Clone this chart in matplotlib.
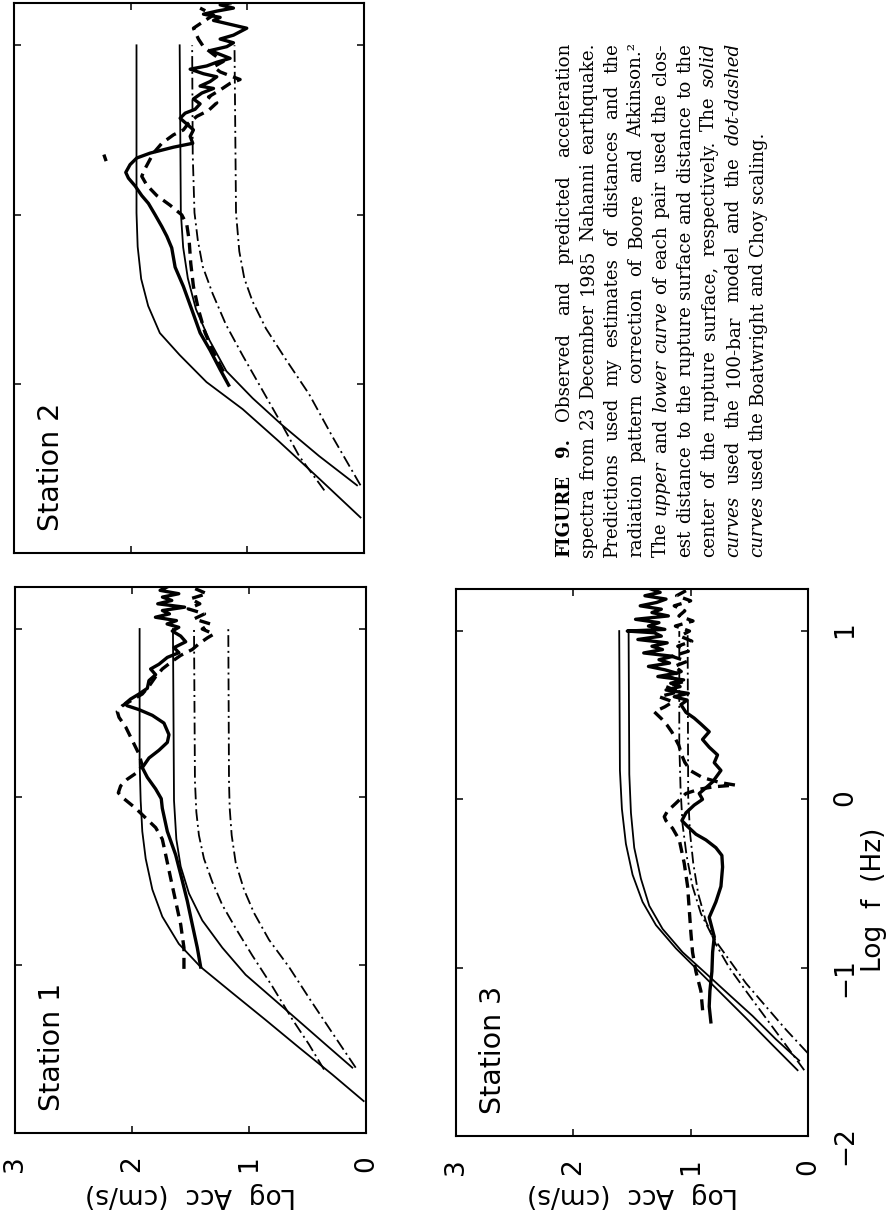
import matplotlib
matplotlib.use("Agg")
import matplotlib.pyplot as plt

W, H = 892, 1214

# tick values / labels
acc_ticks = [3, 2, 1, 0]
acc_tick_labels = ["3", "2", "1", "0"]
f_ticks = [-2, -1, 0, 1]
f_tick_labels = ["\u22122", "\u22121", "0", "1"]

# ---------------- Station 1 ----------------
s1_sol_hi_f = [-1.81, -1.652, -1.491, -1.327, -1.166, -1.012, -0.874, -0.712, -0.551, -0.367, -0.205, -0.021, 0.209, 1.0]
s1_sol_hi_acc = [0.02, 0.288, 0.573, 0.858, 1.143, 1.413, 1.60, 1.741, 1.826, 1.883, 1.912, 1.926, 1.935, 1.935]
s1_sol_lo_f = [-1.611, -1.473, -1.334, -1.196, -1.058, -0.897, -0.735, -0.574, -0.413, -0.251, -0.021, 1.0]
s1_sol_lo_acc = [0.117, 0.345, 0.573, 0.801, 1.029, 1.228, 1.399, 1.513, 1.584, 1.621, 1.641, 1.65]
s1_dd_hi_f = [-1.622, -1.473, -1.323, -1.127, -0.943, -0.781, -0.643, -0.505, -0.367, -0.228, -0.09, 0.094, 1.0]
s1_dd_hi_acc = [0.359, 0.487, 0.63, 0.801, 0.972, 1.114, 1.228, 1.314, 1.385, 1.428, 1.45, 1.462, 1.47]
s1_dd_lo_f = [-1.611, -1.404, -1.196, -1.012, -0.85, -0.689, -0.551, -0.39, -0.228, -0.067, 0.094, 1.0]
s1_dd_lo_acc = [0.088, 0.288, 0.487, 0.658, 0.829, 0.958, 1.043, 1.114, 1.148, 1.165, 1.171, 1.177]
s1_obs_f = [-1.012, -0.897, -0.758, -0.62, -0.482, -0.344, -0.205, -0.067, -0.01, 0.048, 0.117, 0.175,
            0.232, 0.278, 0.325, 0.371, 0.44, 0.486, 0.52, 0.543, 0.555, 0.583, 0.613, 0.647, 0.693,
            0.728, 0.762, 0.79, 0.831, 0.859, 0.889, 0.924, 0.958, 0.988, 1.01, 1.03, 1.05, 1.07, 1.09,
            1.11, 1.13, 1.15, 1.17, 1.19, 1.21, 1.23, 1.25]
s1_obs_acc = [1.413, 1.442, 1.485, 1.527, 1.576, 1.627, 1.698, 1.741, 1.75, 1.798, 1.869, 1.912,
              1.855, 1.77, 1.698, 1.684, 1.727, 1.826, 1.94, 2.04, 2.06, 2.012, 1.94, 1.869, 1.855,
              1.798, 1.841, 1.77, 1.698, 1.599, 1.641, 1.541, 1.584, 1.656, 1.60, 1.70, 1.62, 1.80, 1.68,
              1.74, 1.55, 1.78, 1.66, 1.74, 1.60, 1.76, 1.70]
s1_obsd_f = [-1.023, -0.897, -0.758, -0.62, -0.482, -0.344, -0.251, -0.182, -0.125, -0.067, -0.01, 0.025,
             0.066, 0.106, 0.14, 0.186, 0.255, 0.336, 0.417, 0.474, 0.509, 0.543, 0.578, 0.613, 0.659,
             0.716, 0.762, 0.808, 0.843, 0.878, 0.912, 0.947, 0.97, 1.0, 1.03, 1.06, 1.09, 1.12, 1.15,
             1.18, 1.21, 1.24]
s1_obsd_acc = [1.556, 1.556, 1.584, 1.627, 1.67, 1.712, 1.741, 1.798, 1.883, 1.969, 2.069, 2.117,
               2.097, 2.04, 1.969, 1.912, 1.94, 1.997, 2.054, 2.111, 2.126, 2.083, 1.997, 1.912, 1.855,
               1.798, 1.741, 1.656, 1.584, 1.485, 1.428, 1.356, 1.30, 1.40, 1.33, 1.47, 1.38, 1.52, 1.42,
               1.50, 1.36, 1.46]

# ---------------- Station 2 ----------------
s2_sol_hi_f = [-1.79, -1.56, -1.34, -1.15, -0.99, -0.83, -0.70, -0.54, -0.38, -0.19, 0.01, 1.0]
s2_sol_hi_acc = [0.03, 0.385, 0.73, 1.04, 1.35, 1.58, 1.75, 1.85, 1.91, 1.94, 1.95, 1.95]
s2_sol_lo_f = [-1.60, -1.427, -1.245, -1.085, -0.925, -0.742, -0.56, -0.377, -0.194, 0.011, 1.0]
s2_sol_lo_acc = [0.06, 0.385, 0.70, 0.955, 1.18, 1.325, 1.44, 1.51, 1.55, 1.57, 1.58]
s2_dd_hi_f = [-1.63, -1.427, -1.245, -1.039, -0.833, -0.651, -0.468, -0.308, -0.149, 0.011, 0.354, 1.0]
s2_dd_hi_acc = [0.34, 0.556, 0.70, 0.87, 1.04, 1.183, 1.297, 1.382, 1.425, 1.453, 1.468, 1.473]
s2_dd_lo_f = [-1.60, -1.313, -1.062, -0.856, -0.674, -0.514, -0.377, -0.217, 0.011, 1.0]
s2_dd_lo_acc = [0.03, 0.27, 0.47, 0.67, 0.84, 0.955, 1.026, 1.069, 1.097, 1.11]
s2_obs_f = [-1.008, -0.916, -0.802, -0.699, -0.562, -0.425, -0.311, -0.197, -0.128, -0.071, -0.002,
            0.066, 0.112, 0.169, 0.215, 0.249, 0.295, 0.334, 0.363, 0.398, 0.421, 0.462, 0.5, 0.535,
            0.569, 0.599, 0.622, 0.654, 0.683, 0.718, 0.745, 0.759, 0.786, 0.814, 0.832, 0.859, 0.878,
            0.9, 0.923, 0.946, 0.969, 0.992, 1.015, 1.037, 1.06, 1.101, 1.124, 1.147, 1.165, 1.184,
            1.202, 1.22, 1.239, 1.25]
s2_obs_acc = [1.16, 1.233, 1.319, 1.405, 1.476, 1.548, 1.619, 1.648, 1.69, 1.733, 1.79,
              1.848, 1.905, 1.962, 2.019, 2.042, 2.005, 1.948, 1.833, 1.633, 1.468, 1.49, 1.462, 1.519,
              1.576, 1.533, 1.448, 1.405, 1.462, 1.39, 1.29, 1.405, 1.319, 1.262, 1.376, 1.49, 1.348,
              1.262, 1.148, 1.233, 1.319, 1.176, 1.119, 1.233, 1.119, 1.005, 1.148, 1.29, 1.233, 1.376,
              1.262, 1.119, 1.233, 1.148]
s2_obsd_f = [-0.928, -0.814, -0.699, -0.562, -0.425, -0.288, -0.151, -0.059, -0.002, 0.055, 0.112,
             0.174, 0.226, 0.272, 0.363, 0.421, 0.471, 0.5, 0.539, 0.58, 0.615, 0.66, 0.695, 0.736,
             0.775, 0.798, 0.82, 0.843, 0.873, 0.905, 0.946, 0.992, 1.037, 1.101, 1.147, 1.179, 1.22]
s2_obsd_acc = [1.205, 1.29, 1.362, 1.419, 1.462, 1.485, 1.499, 1.519, 1.562, 1.662, 1.776,
               1.862, 1.905, 1.876, 1.805, 1.733, 1.633, 1.548, 1.505, 1.433, 1.333, 1.262, 1.333, 1.233,
               1.148, 1.062, 1.148, 1.233, 1.29, 1.205, 1.29, 1.376, 1.419, 1.462, 1.362, 1.29, 1.405]
s2_speck_f = [0.345, 0.325]
s2_speck_acc = [2.225, 2.215]

# ---------------- Station 3 ----------------
s3_sol_hi_f = [-1.609, -1.46, -1.299, -1.161, -1.023, -0.885, -0.747, -0.609, -0.448, -0.264, -0.057, 0.172, 1.0]
s3_sol_hi_acc = [0.089, 0.302, 0.529, 0.728, 0.927, 1.126, 1.296, 1.41, 1.495, 1.552, 1.586, 1.603, 1.609]
s3_sol_lo_f = [-1.552, -1.425, -1.287, -1.161, -1.034, -0.908, -0.77, -0.632, -0.471, -0.287, -0.08, 0.149, 1.0]
s3_sol_lo_acc = [0.075, 0.274, 0.472, 0.671, 0.87, 1.069, 1.239, 1.353, 1.424, 1.481, 1.509, 1.523, 1.529]
s3_dd_hi_f = [-1.506, -1.368, -1.23, -1.092, -0.954, -0.816, -0.678, -0.517, -0.333, -0.149, 0.058, 0.333, 1.0]
s3_dd_hi_acc = [0.004, 0.188, 0.359, 0.529, 0.671, 0.813, 0.913, 0.984, 1.035, 1.069, 1.086, 1.097, 1.097]
s3_dd_lo_f = [-1.609, -1.46, -1.299, -1.138, -1.0, -0.862, -0.724, -0.563, -0.379, -0.195, 0.012, 1.0]
s3_dd_lo_acc = [0.032, 0.188, 0.359, 0.529, 0.671, 0.785, 0.87, 0.935, 0.978, 1.006, 1.021, 1.026]
s3_obs_f = [-1.322, -1.23, -1.138, -1.023, -0.908, -0.816, -0.701, -0.609, -0.517, -0.402, -0.333,
            -0.287, -0.241, -0.207, -0.161, -0.126, -0.08, -0.034, 0.0, 0.035, 0.069, 0.104, 0.172,
            0.218, 0.264, 0.31, 0.356, 0.402, 0.448, 0.483, 0.517, 0.563,
            0.59, 0.61, 0.63, 0.65, 0.67, 0.69, 0.71, 0.73, 0.75, 0.77, 0.79, 0.81, 0.83, 0.85, 0.87,
            0.89, 0.91, 0.93, 0.95, 0.97, 0.99, 1.00, 1.01, 1.03, 1.05, 1.07, 1.09, 1.11, 1.13, 1.15,
            1.17, 1.19, 1.21, 1.23, 1.25]
s3_obs_acc = [0.828, 0.842, 0.836, 0.819, 0.813, 0.799, 0.842, 0.785, 0.742, 0.728, 0.734,
              0.785, 0.87, 0.955, 1.026, 1.075, 1.04, 0.97, 0.899, 0.927, 0.87, 0.813, 0.742,
              0.799, 0.771, 0.842, 0.899, 0.842, 0.913, 0.97, 1.04, 1.083,
              1.03, 1.14, 1.02, 1.21, 1.09, 1.17, 1.06, 1.28, 1.12, 1.22, 1.36, 1.18, 1.27, 1.15, 1.40,
              1.24, 1.33, 1.20, 1.45, 1.25, 1.31, 1.54, 1.22, 1.36, 1.27, 1.47, 1.19, 1.33, 1.25, 1.43,
              1.29, 1.21, 1.39, 1.26, 1.34]
s3_obsd_f = [-1.253, -1.138, -1.023, -0.908, -0.793, -0.655, -0.517, -0.379, -0.241, -0.172, -0.126,
             -0.103, -0.069, -0.023, 0.035, 0.06, 0.075, 0.085, 0.10, 0.13, 0.17, 0.22, 0.27, 0.32,
             0.36, 0.40, 0.44, 0.48, 0.52, 0.55, 0.58, 0.61, 0.64, 0.67, 0.70, 0.73, 0.76, 0.79, 0.82,
             0.85, 0.88, 0.91, 0.94, 0.97, 1.00, 1.03, 1.06, 1.09, 1.12, 1.15, 1.18, 1.21, 1.24]
s3_obsd_acc = [0.898, 0.913, 0.955, 0.984, 0.998, 1.012, 1.026, 1.055, 1.097, 1.154, 1.211,
               1.225, 1.197, 1.126, 1.04, 0.93, 0.80, 0.62, 0.75, 0.90, 1.00, 1.05, 1.08, 1.10,
               1.13, 1.16, 1.20, 1.25, 1.31, 1.22, 1.15, 1.27, 1.10, 1.21, 1.06, 1.19, 1.08, 1.14, 1.03,
               1.16, 1.02, 1.11, 0.99, 1.09, 1.01, 1.13, 0.98, 1.10, 1.05, 1.14, 1.00, 1.12, 1.04]

caption_lines = [
    "^FIGURE ^9. Observed and predicted acceleration",
    "spectra from 23 December 1985 Nahanni earthquake.",
    "Predictions used my estimates of distances and the",
    "radiation pattern correction of Boore and Atkinson.\u00b2",
    "The _upper and _lower _curve of each pair used the clos-",
    "est distance to the rupture surface and distance to the",
    "center of the rupture surface, respectively. The _solid",
    "_curves used the 100-bar model and the _dot-dashed",
    "_curves used the Boatwright and Choy scaling.",
]

FS = 19
model_kw = dict(color="black", lw=1.3)
dd_kw = dict(color="black", lw=1.3, linestyle=(0, (6.5, 2.2, 1.1, 2.2)))
obs_kw = dict(color="black", lw=2.4)
obsd_kw = dict(color="black", lw=2.4, linestyle=(0, (3.3, 2.0)))

fig = plt.figure(figsize=(W / 100, H / 100), dpi=100)


def box(x0, y0, x1, y1):
    # pixel box of the page -> figure fraction
    return [x0 / W, 1 - y1 / H, (x1 - x0) / W, (y1 - y0) / H]


def panel(rect, name, lines, acc_lab=False, f_lab=False):
    ax = fig.add_axes(rect)
    for f, a, kw in lines:
        ax.plot(a, f, **kw)
    ax.set_xlim(3, 0)
    ax.set_ylim(-2, 1.25)
    ax.set_xticks(acc_ticks)
    ax.set_xticklabels(acc_tick_labels)
    ax.set_yticks(f_ticks)
    ax.set_yticklabels(f_tick_labels)
    ax.tick_params(direction="in", length=5, width=1.1, top=True, right=True,
                   labelsize=FS, labelbottom=acc_lab, labelleft=False, labelright=f_lab)
    ax.tick_params(axis="x", labelrotation=90, pad=16)
    ax.tick_params(axis="y", labelrotation=90, pad=17.5)
    for s in ax.spines.values():
        s.set_linewidth(1.5)
    ax.text(0.065, 0.04, name, transform=ax.transAxes, rotation=90,
            ha="left", va="bottom", fontsize=20.5)
    return ax


ax1 = panel(box(15, 587, 366, 1133), "Station 1", [
    (s1_sol_hi_f, s1_sol_hi_acc, model_kw), (s1_sol_lo_f, s1_sol_lo_acc, model_kw),
    (s1_dd_hi_f, s1_dd_hi_acc, dd_kw), (s1_dd_lo_f, s1_dd_lo_acc, dd_kw),
    (s1_obs_f, s1_obs_acc, obs_kw), (s1_obsd_f, s1_obsd_acc, obsd_kw)], acc_lab=True)
ax2 = panel(box(14, 3, 364, 553), "Station 2", [
    (s2_sol_hi_f, s2_sol_hi_acc, model_kw), (s2_sol_lo_f, s2_sol_lo_acc, model_kw),
    (s2_dd_hi_f, s2_dd_hi_acc, dd_kw), (s2_dd_lo_f, s2_dd_lo_acc, dd_kw),
    (s2_obs_f, s2_obs_acc, obs_kw), (s2_obsd_f, s2_obsd_acc, obsd_kw),
    (s2_speck_f, s2_speck_acc, obs_kw)])
ax3 = panel(box(456, 589, 808, 1136), "Station 3", [
    (s3_sol_hi_f, s3_sol_hi_acc, model_kw), (s3_sol_lo_f, s3_sol_lo_acc, model_kw),
    (s3_dd_hi_f, s3_dd_hi_acc, dd_kw), (s3_dd_lo_f, s3_dd_lo_acc, dd_kw),
    (s3_obs_f, s3_obs_acc, obs_kw), (s3_obsd_f, s3_obsd_acc, obsd_kw)], acc_lab=True, f_lab=True)

# axis titles (page is turned on its side)
for cx in (191, 632):
    fig.text(cx / W, 1 - 1195 / H, "Log  Acc  (cm/s)", rotation=180,
             ha="center", va="center", fontsize=FS)
fig.text(874 / W, 1 - 900 / H, "Log  f  (Hz)", rotation=90, ha="center", va="center", fontsize=FS)

# caption, justified, rotated
CAP_FONT = "DejaVu Serif"
cap_x0, cap_pitch = 569, 24.2
cap_y0, cap_len = 557, 514
r = fig.canvas.get_renderer()


def word_style(w):
    if w.startswith("^"):
        return w[1:], {"fontweight": "bold"}
    if w.startswith("_"):
        return w[1:], {"fontstyle": "italic"}
    return w, {}


def text_w(s, kw, size):
    t = fig.text(0, 0, s, fontsize=size, family=CAP_FONT, **kw)
    w = t.get_window_extent(r).width
    t.remove()
    return w


# pick the size so that the widest full line just fits the measure
natural = []
for line in caption_lines[:-1]:
    words = [word_style(w) for w in line.split()]
    natural.append(sum(text_w(s, kw, 10) for s, kw in words)
                   + (len(words) - 1) * (text_w("a a", {}, 10) - text_w("aa", {}, 10)))
cap_size = 10 * 0.985 * cap_len / max(natural)

space = text_w("a a", {}, cap_size) - text_w("aa", {}, cap_size)
for i, line in enumerate(caption_lines):
    words = [word_style(w) for w in line.split()]
    widths = [text_w(s, kw, cap_size) for s, kw in words]
    if i == len(caption_lines) - 1:
        gap = space
    else:
        gap = (cap_len - sum(widths)) / (len(words) - 1)
    x = (cap_x0 + i * cap_pitch) / W
    y = cap_y0
    for (s, kw), w in zip(words, widths):
        fig.text(x, 1 - y / H, s, rotation=90, rotation_mode="anchor", ha="left",
                 va="baseline", fontsize=cap_size, family=CAP_FONT, **kw)
        y -= w + gap

fig.savefig("out.png", dpi=100)
